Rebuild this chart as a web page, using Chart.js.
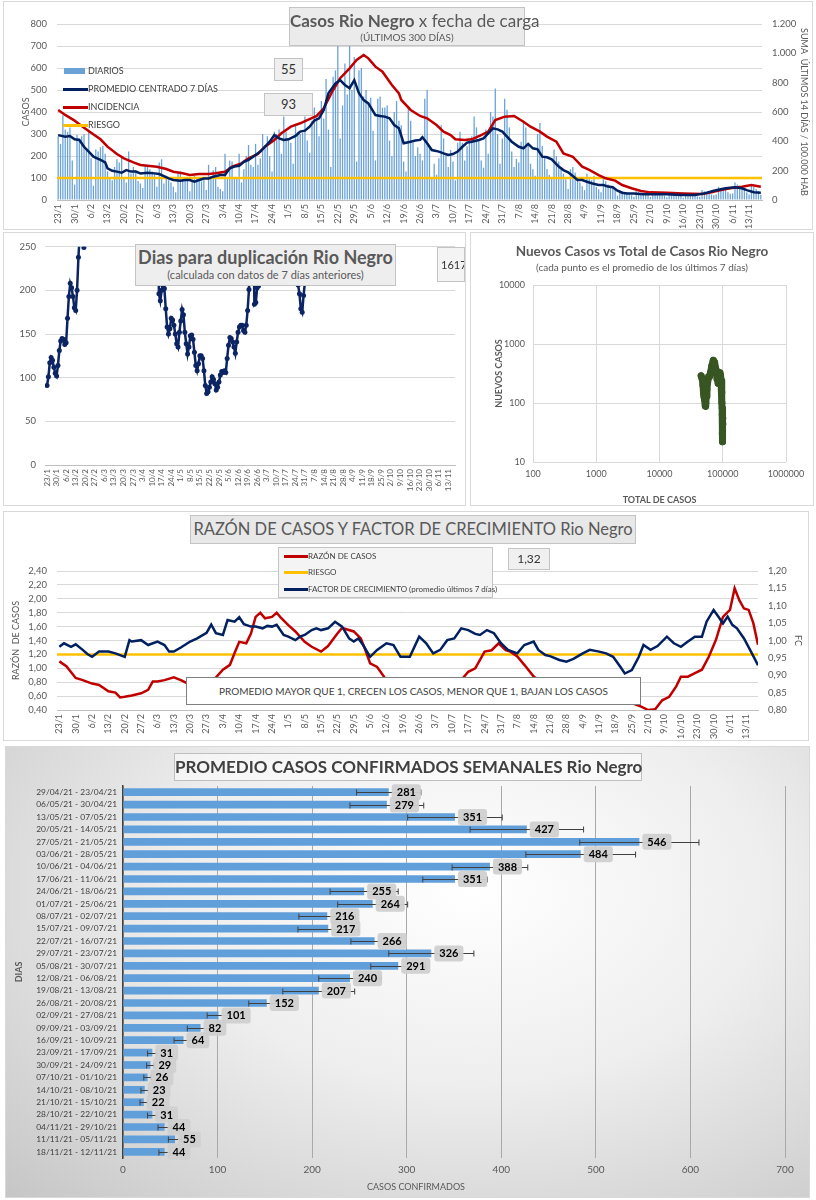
<!DOCTYPE html>
<html>
<head>
<meta charset="utf-8">
<script src="https://cdn.jsdelivr.net/npm/chart.js@4"></script>
<style>
body { margin: 0; width: 816px; height: 1200px; position: relative; background: #fff; font-family: Lato, sans-serif; overflow: hidden; }
canvas { position: absolute; }
.frame { position: absolute; border: 1px solid #d9d9d9; box-sizing: border-box; }
.box { position: absolute; box-sizing: border-box; background: #ebebeb; border: 1px solid #c4c4c4; color: #595959; text-align: center; z-index: 5; white-space: nowrap; }
.lt { position: absolute; font-size: 9px; line-height: 10px; color: #404040; white-space: nowrap; z-index: 5; }
.sw { position: absolute; z-index: 5; }
.txt { position: absolute; white-space: nowrap; z-index: 5; color: #595959; }
</style>
</head>
<body>

<div class="frame" style="left:3px;top:1px;width:810px;height:229px"></div>
<div class="frame" style="left:3px;top:232px;width:463px;height:274px"></div>
<div class="frame" style="left:470px;top:232px;width:344px;height:274px"></div>
<div class="frame" style="left:3px;top:511px;width:806px;height:230px"></div>
<div class="frame" style="left:5px;top:746px;width:805px;height:452px;background:radial-gradient(ellipse at 58% 32%, #ffffff 0%, #eeeeee 45%, #c6c6c6 100%)"></div>

<canvas id="c1" width="810" height="228" style="left:3px;top:2px"></canvas>
<canvas id="c2" width="462" height="273" style="left:3px;top:232px"></canvas>
<canvas id="c3" width="343" height="273" style="left:470px;top:232px"></canvas>
<canvas id="c4" width="807" height="230" style="left:3px;top:510px"></canvas>
<canvas id="c5" width="805" height="452" style="left:5px;top:746px"></canvas>

<!-- panel 1 overlays -->
<div class="box" style="left:289px;top:7px;width:236px;height:39px">
  <div style="font-size:17px;line-height:20px;margin-top:3px"><b>Casos Rio Negro</b> x fecha de carga</div>
  <div style="font-size:10px;line-height:12px">(ÚLTIMOS 300 DÍAS)</div>
</div>
<div class="box" style="left:274px;top:58px;width:29px;height:23px;font-size:13px;line-height:21px;color:#333;background:#efefef">55</div>
<div class="box" style="left:264px;top:93px;width:49px;height:23px;font-size:13px;line-height:21px;color:#333;background:#efefef">93</div>
<div class="sw" style="left:64px;top:68px;width:21px;height:6px;background:#6aa2d8"></div>
<div class="lt" style="left:88px;top:66px">DIARIOS</div>
<div class="sw" style="left:63px;top:88px;width:25px;height:3px;background:#002060"></div>
<div class="lt" style="left:88px;top:84px">PROMEDIO CENTRADO 7 DÍAS</div>
<div class="sw" style="left:63px;top:106px;width:25px;height:3px;background:#c00000"></div>
<div class="lt" style="left:88px;top:102px">INCIDENCIA</div>
<div class="sw" style="left:63px;top:124px;width:25px;height:3px;background:#ffc000"></div>
<div class="lt" style="left:88px;top:120px">RIESGO</div>

<!-- panel 2 overlays -->
<div class="box" style="left:135px;top:244px;width:261px;height:42px;background:#eeeeee">
  <div style="font-size:18px;line-height:21px;margin-top:2px;font-weight:bold">Dias para duplicación Rio Negro</div>
  <div style="font-size:11px;line-height:14px">(calculada con datos de 7 días anteriores)</div>
</div>
<div class="box" style="left:437px;top:247px;width:28px;height:35px;font-size:11px;line-height:33px;color:#333;background:#f4f4f4;text-align:left;padding-left:3px;overflow:hidden">1617</div>

<!-- panel 3 overlays -->
<div class="txt" style="left:470px;top:243px;width:344px;text-align:center;font-size:13.5px;font-weight:bold">Nuevos Casos vs Total de Casos Rio Negro</div>
<div class="txt" style="left:470px;top:261px;width:344px;text-align:center;font-size:10px">(cada punto es el promedio de los últimos 7 días)</div>

<!-- panel 4 overlays -->
<div class="box" style="left:190px;top:515px;width:446px;height:29px;font-size:16.5px;line-height:27px;background:#e8e8e8">RAZÓN DE CASOS Y FACTOR DE CRECIMIENTO Rio Negro</div>
<div class="box" style="left:278px;top:547px;width:215px;height:51px;background:#f4f4f4"></div>
<div class="sw" style="left:284px;top:555px;width:24px;height:3px;background:#c00000"></div>
<div class="lt" style="left:308px;top:551px;font-size:8px">RAZÓN DE CASOS</div>
<div class="sw" style="left:284px;top:571px;width:24px;height:3px;background:#ffc000"></div>
<div class="lt" style="left:308px;top:567px;font-size:8px">RIESGO</div>
<div class="sw" style="left:284px;top:588px;width:24px;height:3px;background:#002060"></div>
<div class="lt" style="left:308px;top:584px;font-size:8px">FACTOR DE CRECIMIENTO (promedio últimos 7 días)</div>
<div class="box" style="left:508px;top:548px;width:42px;height:22px;font-size:12px;line-height:20px;color:#333;background:#f0f0f0">1,32</div>
<div class="box" style="left:186px;top:677px;width:455px;height:28px;font-size:10px;line-height:26px;color:#404040;background:#fff;border-color:#7f7f7f">PROMEDIO MAYOR QUE 1, CRECEN LOS CASOS, MENOR QUE 1, BAJAN LOS CASOS</div>

<!-- panel 5 overlays -->
<div class="box" style="left:174px;top:753px;width:468px;height:28px;font-size:17px;line-height:26px;font-weight:bold;color:#404040;background:rgba(255,255,255,0.5);border-color:#bfbfbf">PROMEDIO CASOS CONFIRMADOS SEMANALES Rio Negro</div>
<div class="txt" style="left:367px;top:1181px;font-size:9px;color:#595959">CASOS CONFIRMADOS</div>

<script>
// ---------- shared x axis (days since 23/1) ----------
const weekLabels = ['23/1','30/1','6/2','13/2','20/2','27/2','6/3','13/3','20/3','27/3','3/4','10/4','17/4','24/4',
  '1/5','8/5','15/5','22/5','29/5','5/6','12/6','19/6','26/6','3/7','10/7','17/7','24/7','31/7','7/8','14/8',
  '21/8','28/8','4/9','11/9','18/9','25/9','2/10','9/10','16/10','23/10','30/10','6/11','13/11'];

// ---------- panel 1: daily cases ----------
const diarios = [
  290,255,385,320,310,330,180, 70,295,280,290,300,230,310, 190,65,230,220,240,245,210,
  130,95,90,150,185,170,195, 105,80,220,120,150,135,86, 75,55,155,160,140,130,125,
  60,170,185,75,110,90,80, 60,35,120,130,95,100,90, 40,90,110,105,95,85,91,
  45,160,100,135,150,60,50, 40,210,95,180,175,105,105, 210,80,140,200,250,160,150,
  255,160,190,300,250,290,200, 130,310,300,320,210,380,310, 280,260,165,340,310,300,305,
  380,270,215,360,420,375,290, 450,370,550,320,150,560,589, 700,280,430,620,480,700,500,
  650,175,590,600,470,500,445, 465,315,180,460,470,420,420, 430,270,200,400,450,360,340,
  175,130,420,360,260,200,240, 210,180,460,500,240,100,165, 115,190,340,280,210,150,227,
  175,90,260,310,260,180,244, 265,290,380,330,270,180,147, 320,210,400,380,507,300,165,
  280,460,410,330,220,150,187, 170,265,360,330,250,165,140, 110,300,350,245,190,140,114,
  95,230,200,175,150,120,94, 50,140,150,125,100,80,62, 45,120,100,90,110,60,49,
  35,95,85,70,60,55,48, 20,45,40,30,35,25,22, 15,40,35,30,32,26,25,
  14,38,30,28,30,22,20, 12,30,28,25,26,22,18, 10,30,28,24,25,20,17,
  15,45,40,35,35,25,22, 25,60,55,50,55,35,28, 30,80,70,65,60,45,35,
  25,65,60,50,40,24];

const promDias = [0,3,5,7,9,11,13,15,18,20,21,23,25,27,29,31,33,35,38,41,43,45,47,49,52,54,56,58,60,62,64,66,69,71,
  73,75,77,79,81,83,86,88,90,92,94,96,98,101,103,105,107,109,111,113,115,118,120,122,124,126,128,130,132,135,137,139,
  141,143,145,147,150,152,154,155,157,159,162,164,166,168,170,172,174,176,179,181,183,185,187,189,191,193,196,198,200,
  202,204,206,208,210,213,215,217,219,221,223,225,227,230,232,234,236,238,240,242,245,249,254,259,265,271,275,279,284,
  288,291,293,296,299];
const promValores = [295,288,291,276,273,242,220,197,182,171,144,133,129,124,136,129,129,121,124,121,118,109,98,91,88,91,
  91,83,91,98,98,106,114,114,144,152,155,174,182,197,220,242,265,295,280,273,276,291,311,315,333,361,371,409,485,530,545,
  523,508,545,485,454,439,386,382,379,371,341,326,258,265,270,273,285,258,227,220,212,205,209,220,242,261,265,273,280,
  303,326,321,311,288,265,242,235,255,235,230,197,194,185,152,136,126,109,91,91,83,76,68,68,61,58,42,33,30,30,26,26,26,
  23,23,30,42,53,58,53,45,35,33];

const incDias = [0,3,7,10,14,18,21,25,28,32,35,39,42,46,49,53,56,60,64,67,71,74,78,81,85,88,92,95,99,103,106,110,113,
  117,120,124,127,130,132,135,138,142,145,146,150,154,157,161,164,167,169,173,176,180,183,186,190,194,198,201,205,208,
  212,215,219,223,226,230,233,237,240,244,248,252,259,266,274,278,282,286,291,295,299];
const incValores = [614,580,541,505,459,414,364,314,284,257,239,232,227,211,193,182,170,177,177,182,193,227,250,284,314,
  364,409,455,500,523,545,573,625,750,830,898,955,989,966,909,875,784,727,682,614,573,557,511,466,443,414,409,414,443,
  466,545,568,573,534,500,466,432,398,318,295,227,205,170,148,132,102,80,61,52,50,45,41,52,68,80,91,102,91];
const riesgoCasos = 100;

// ---------- panel 2: doubling days ----------
const dupInicio = [0, 81, 183];
const dupTramos = [
  [91,101,117,123,120,112,105,102,114,131,142,145,144,138,140,168,193,208,203,193,180,177,200,238,265,290,275,249,280],
  [300,196,188,200,205,202,179,158,150,156,168,166,160,150,139,135,152,165,178,172,152,139,127,135,148,149,144,129,114,
   108,116,125,125,122,108,91,82,84,89,95,101,98,93,86,89,95,103,107,106,108,106,122,137,146,145,141,135,128,141,152,158,
   160,160,154,152,160,177,201,243,280,270,184,186,203,205,230,260],
  [260,206,196,179,175,194,209,270]
];

// ---------- panel 3: new vs total (weekly) ----------
const totalCasos = [45530,47315,48715,49730,50626,51466,52236,52866,53482,54182,55092,56282,57927,59887,61847,64157,
  67146,70856,74286,77016,79466,81251,83106,84618,86137,87999,90281,92318,93998,95447,96511,97218,97792,98240,98457,
  98660,98842,99003,99157,99374,99682,100067,100331];
const nuevosCasos = [290,255,200,145,128,120,110,90,88,100,130,170,235,280,280,330,427,530,490,390,350,255,265,216,217,
  266,326,291,240,207,152,101,82,64,31,29,26,23,22,31,44,55,44];

// ---------- panel 4: ratio and growth factor ----------
const razonDias = [0,3,7,10,14,17,21,24,26,28,31,35,38,40,42,45,49,52,55,56,59,63,66,70,73,75,77,80,82,84,86,88,91,93,95,
  98,101,105,108,112,115,119,121,126,129,131,133,136,140,143,147,150,154,158,161,165,168,172,175,178,182,185,188,191,193,
  196,199,203,206,210,213,217,220,224,228,231,235,238,241,245,249,252,255,258,261,264,266,269,272,275,278,281,284,287,
  289,291,293,295,297,299];
const razonValores = [1.10,1.03,0.86,0.83,0.78,0.76,0.67,0.65,0.58,0.59,0.61,0.64,0.69,0.81,0.81,0.83,0.87,0.83,0.78,0.74,
  0.77,0.75,0.83,0.98,1.05,1.22,1.38,1.36,1.50,1.74,1.80,1.72,1.74,1.80,1.72,1.62,1.53,1.38,1.31,1.24,1.32,1.50,1.58,1.53,
  1.43,1.26,1.07,1.02,0.83,0.76,0.74,0.69,0.74,0.71,0.69,0.75,0.76,0.83,0.95,1.00,1.24,1.26,1.36,1.26,1.24,1.17,1.05,0.88,
  0.81,0.76,0.75,0.69,0.59,0.52,0.51,0.52,0.57,0.57,0.52,0.50,0.45,0.40,0.41,0.54,0.59,0.74,0.88,0.88,0.93,0.98,1.17,1.41,
  1.74,1.84,2.15,1.98,1.86,1.84,1.65,1.34];
const fcDias = [0,2,5,7,10,12,14,17,21,24,28,30,31,35,38,42,45,47,49,52,56,59,63,65,67,70,72,75,77,79,82,84,87,89,91,93,
  96,98,101,103,105,108,110,112,115,118,121,124,126,128,130,133,136,140,143,146,150,154,157,160,163,166,169,172,175,178,
  180,183,186,189,192,196,199,203,205,208,210,214,217,220,224,227,231,234,237,240,242,245,248,250,253,256,260,263,266,
  269,272,275,277,280,282,284,286,288,290,293,296,299];
const fcValores = [0.982,0.992,0.982,0.989,0.973,0.961,0.953,0.968,0.968,0.963,0.953,1.001,0.997,1.001,0.987,0.997,0.987,
  0.968,0.968,0.980,0.997,1.006,1.022,1.046,1.021,1.016,1.059,1.054,1.067,1.047,1.040,1.040,1.035,1.042,1.040,1.045,1.016,
  1.011,1.001,1.011,1.016,1.030,1.035,1.030,1.035,1.054,1.040,1.006,0.997,1.006,0.987,0.953,0.973,0.992,0.987,0.953,0.953,
  1.011,0.992,0.963,0.973,1.001,1.006,1.035,1.030,1.019,1.016,1.030,1.021,0.992,0.973,0.963,0.987,0.997,0.973,0.958,0.955,
  0.944,0.939,0.947,0.963,0.973,0.968,0.963,0.953,0.925,0.905,0.915,0.953,0.987,0.973,0.984,1.011,0.992,0.982,0.997,1.011,
  1.011,1.054,1.088,1.069,1.049,1.069,1.045,1.035,1.006,0.968,0.929];
const riesgoRazon = 1.2;

// ---------- panel 5: weekly averages ----------
const semanas = ['29/04/21 - 23/04/21','06/05/21 - 30/04/21','13/05/21 - 07/05/21','20/05/21 - 14/05/21',
  '27/05/21 - 21/05/21','03/06/21 - 28/05/21','10/06/21 - 04/06/21','17/06/21 - 11/06/21','24/06/21 - 18/06/21',
  '01/07/21 - 25/06/21','08/07/21 - 02/07/21','15/07/21 - 09/07/21','22/07/21 - 16/07/21','29/07/21 - 23/07/21',
  '05/08/21 - 30/07/21','12/08/21 - 06/08/21','19/08/21 - 13/08/21','26/08/21 - 20/08/21','02/09/21 - 27/08/21',
  '09/09/21 - 03/09/21','16/09/21 - 10/09/21','23/09/21 - 17/09/21','30/09/21 - 24/09/21','07/10/21 - 01/10/21',
  '14/10/21 - 08/10/21','21/10/21 - 15/10/21','28/10/21 - 22/10/21','04/11/21 - 29/10/21','11/11/21 - 05/11/21',
  '18/11/21 - 12/11/21'];
const promedioSemanal = [281,279,351,427,546,484,388,351,255,264,216,217,266,326,291,240,207,152,101,82,64,31,29,26,23,22,31,44,55,44];
const errorSemanal = [34,39,50,60,63,58,40,34,36,37,30,32,25,45,29,33,38,19,12,14,10,5,4,4,4,4,5,7,7,6];

// ---------- helpers ----------
Chart.defaults.font.family = 'Lato, sans-serif';
Chart.defaults.color = '#595959';
const pairs = (xs, ys) => xs.map((x, i) => ({x: x, y: ys[i]}));
const weekTicks = s => { s.ticks = weekLabels.map((l, i) => ({value: i * 7})); };
const weekCb = v => weekLabels[Math.round(v / 7)];
const miles = v => String(v).replace(/\B(?=(\d{3})+(?!\d))/g, '.');
const coma = d => v => v.toFixed(d).replace('.', ',');
const base = {animation: false, responsive: false, plugins: {legend: {display: false}, tooltip: {enabled: false}}};
const grid = '#d9d9d9';
function xWeeks(min, max, h, size) {
  return {type: 'linear', min: min, max: max, offset: false, grid: {display: false, drawTicks: false},
    border: {color: '#bfbfbf'}, afterBuildTicks: weekTicks, afterFit: s => { s.height = h; },
    ticks: {autoSkip: false, minRotation: 90, maxRotation: 90, padding: 4, font: {size: size}, callback: weekCb}};
}
const axTitle = (t, bold) => ({display: true, text: t, font: {size: 9, weight: bold ? 'bold' : 'normal'}, color: '#595959', padding: {top: 4, bottom: 4}});

// ---------- chart 1 ----------
new Chart(document.getElementById('c1'), {
  type: 'bar',
  data: {datasets: [
    {type: 'line', data: pairs(promDias, promValores), borderColor: '#002060', borderWidth: 2.5, pointRadius: 0, yAxisID: 'y', order: 1},
    {type: 'line', data: pairs(incDias, incValores), borderColor: '#c00000', borderWidth: 2.5, pointRadius: 0, yAxisID: 'y1', order: 2},
    {type: 'line', data: [{x: -0.5, y: riesgoCasos}, {x: 299.5, y: riesgoCasos}], borderColor: '#ffc000', borderWidth: 2.5, pointRadius: 0, yAxisID: 'y', order: 3},
    {data: diarios.map((v, i) => ({x: i, y: v})), backgroundColor: '#6aa2d8', barPercentage: 0.55, categoryPercentage: 1, yAxisID: 'y', order: 4}
  ]},
  options: Object.assign({}, base, {
    layout: {padding: {top: 22, left: 14, right: 0, bottom: 0}},
    scales: {
      x: xWeeks(-0.5, 299.5, 30, 9),
      y: {min: 0, max: 800, ticks: {stepSize: 100, padding: 10, autoSkip: false, font: {size: 9.5}}, grid: {color: grid, drawTicks: false},
        border: {display: false}, title: axTitle('CASOS'), afterFit: s => { s.width = 40; }},
      y1: {position: 'right', min: 0, max: 1200, ticks: {stepSize: 200, padding: 10, autoSkip: false, font: {size: 9.5}, callback: miles},
        grid: {display: false, drawTicks: false}, border: {display: false}, title: axTitle('SUMA  ÚLTIMOS 14 DÍAS / 100.000 HAB'),
        afterFit: s => { s.width = 51; }}
    }
  })
});

// ---------- chart 2 ----------
const dupData = [];
dupTramos.forEach((t, k) => {
  t.forEach((v, i) => dupData.push({x: dupInicio[k] + i, y: v}));
  dupData.push({x: dupInicio[k] + t.length, y: null});
});
new Chart(document.getElementById('c2'), {
  type: 'line',
  data: {datasets: [{data: dupData, borderColor: '#0b2463', backgroundColor: '#0b2463', borderWidth: 2.5,
    pointRadius: 2.5, pointBorderWidth: 0, spanGaps: false}]},
  options: Object.assign({}, base, {
    layout: {padding: {top: 14, left: 0, right: 10, bottom: 0}},
    scales: {
      x: xWeeks(-1.5, 299, 40, 8),
      y: {min: 0, max: 250, ticks: {stepSize: 50, padding: 9, font: {size: 9.5}}, grid: {color: grid, drawTicks: false},
        border: {display: false}, afterFit: s => { s.width = 42; }}
    }
  })
});

// ---------- chart 3 ----------
new Chart(document.getElementById('c3'), {
  type: 'scatter',
  data: {datasets: [{data: pairs(totalCasos, nuevosCasos), showLine: true, borderColor: '#375623', backgroundColor: '#375623',
    borderWidth: 7, borderJoinStyle: 'round', borderCapStyle: 'round', pointRadius: 3.5, pointBorderWidth: 0}]},
  options: Object.assign({}, base, {
    layout: {padding: {top: 53, left: 20, right: 27, bottom: 0}},
    scales: {
      x: {type: 'logarithmic', min: 100, max: 1000000, grid: {color: grid, drawTicks: false}, border: {display: false},
        afterBuildTicks: s => { s.ticks = [100, 1000, 10000, 100000, 1000000].map(v => ({value: v})); },
        ticks: {padding: 7, font: {size: 9}, callback: v => String(v)},
        title: Object.assign(axTitle('TOTAL DE CASOS', true), {padding: {top: 4, bottom: 0}}), afterFit: s => { s.height = 43; }},
      y: {type: 'logarithmic', min: 10, max: 10000, grid: {color: grid, drawTicks: false}, border: {display: false},
        afterBuildTicks: s => { s.ticks = [10, 100, 1000, 10000].map(v => ({value: v})); },
        ticks: {padding: 8, font: {size: 9}, callback: v => String(v)},
        title: axTitle('NUEVOS CASOS', true), afterFit: s => { s.width = 43; }}
    }
  })
});

// ---------- chart 4 ----------
new Chart(document.getElementById('c4'), {
  type: 'line',
  data: {datasets: [
    {data: pairs(fcDias, fcValores), borderColor: '#002060', borderWidth: 2.5, pointRadius: 0, yAxisID: 'y1', order: 1},
    {data: pairs(razonDias, razonValores), borderColor: '#c00000', borderWidth: 2.5, pointRadius: 0, yAxisID: 'y', order: 2},
    {data: [{x: -1, y: riesgoRazon}, {x: 299, y: riesgoRazon}], borderColor: '#ffc000', borderWidth: 2.5, pointRadius: 0, yAxisID: 'y', order: 3}
  ]},
  options: Object.assign({}, base, {
    layout: {padding: {top: 61, left: 4, right: 3, bottom: 0}},
    scales: {
      x: xWeeks(-1, 299, 30, 9),
      y: {min: 0.4, max: 2.4, ticks: {stepSize: 0.2, padding: 10, autoSkip: false, font: {size: 9.5}, callback: coma(2)},
        grid: {color: grid, drawTicks: false}, border: {display: false}, title: axTitle('RAZÓN  DE CASOS'),
        afterFit: s => { s.width = 50; }},
      y1: {position: 'right', min: 0.8, max: 1.2, ticks: {stepSize: 0.05, padding: 10, autoSkip: false, font: {size: 9.5}, callback: coma(2)},
        grid: {display: false, drawTicks: false}, border: {display: false}, title: axTitle('FC'), afterFit: s => { s.width = 49; }}
    }
  })
});

// ---------- chart 5 ----------
const errorBars = {
  id: 'errorBars',
  afterDatasetsDraw(chart) {
    const ctx = chart.ctx, xs = chart.scales.x, meta = chart.getDatasetMeta(0);
    ctx.save();
    ctx.strokeStyle = '#404040';
    ctx.lineWidth = 1;
    meta.data.forEach((bar, i) => {
      const y = Math.round(bar.y) + 0.5;
      const a = xs.getPixelForValue(promedioSemanal[i] - errorSemanal[i]);
      const b = xs.getPixelForValue(promedioSemanal[i] + errorSemanal[i]);
      ctx.beginPath();
      ctx.moveTo(a, y); ctx.lineTo(b, y);
      ctx.moveTo(a, y - 3); ctx.lineTo(a, y + 3);
      ctx.moveTo(b, y - 3); ctx.lineTo(b, y + 3);
      ctx.stroke();
    });
    ctx.font = 'bold 11px Lato, sans-serif';
    ctx.textAlign = 'center';
    ctx.textBaseline = 'middle';
    meta.data.forEach((bar, i) => {
      const t = String(promedioSemanal[i]);
      const w = ctx.measureText(t).width + 10, x = bar.x + 3;
      ctx.fillStyle = 'rgba(208,208,208,0.95)';
      ctx.beginPath();
      ctx.roundRect(x, bar.y - 8, w, 16, 3);
      ctx.fill();
      ctx.fillStyle = '#000';
      ctx.fillText(t, x + w / 2, bar.y + 0.5);
    });
    ctx.restore();
  }
};
new Chart(document.getElementById('c5'), {
  type: 'bar',
  data: {labels: semanas, datasets: [{data: promedioSemanal, backgroundColor: '#619fdb', barPercentage: 0.62, categoryPercentage: 1}]},
  options: Object.assign({}, base, {
    indexAxis: 'y',
    layout: {padding: {top: 40, left: 5, right: 25, bottom: 0}},
    scales: {
      x: {min: 0, max: 700, ticks: {stepSize: 100, padding: 6, font: {size: 10}}, grid: {color: '#a9a9a9', drawTicks: false},
        border: {display: false}, afterFit: s => { s.height = 40; }},
      y: {ticks: {padding: 6, autoSkip: false, font: {size: 8.4}, color: '#404040'}, grid: {display: false, drawTicks: false},
        border: {color: '#404040', width: 1.5}, title: axTitle('DIAS', true), afterFit: s => { s.width = 113; }}
    }
  }),
  plugins: [errorBars]
});
</script>
</body>
</html>
